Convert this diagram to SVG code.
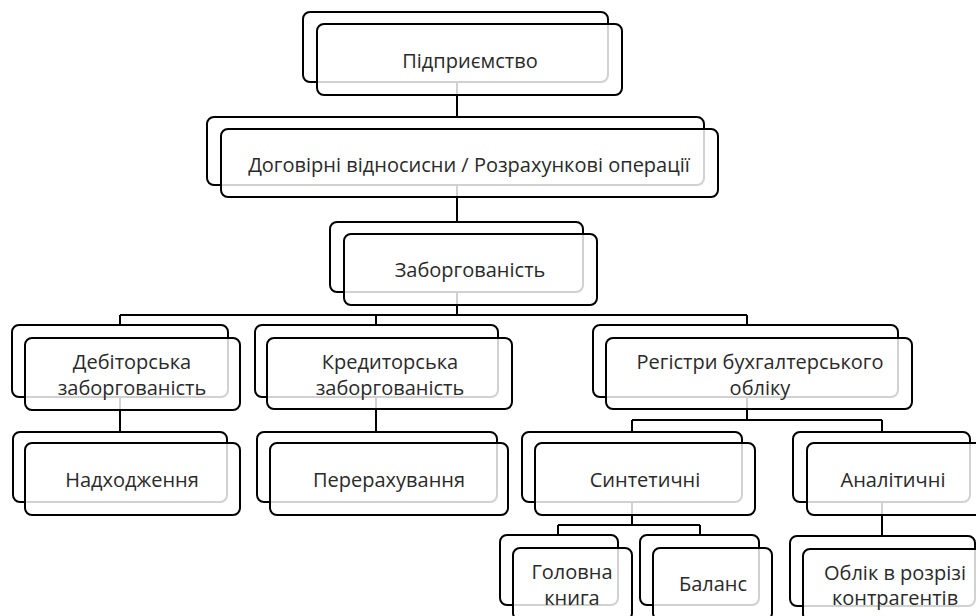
<svg xmlns="http://www.w3.org/2000/svg" width="976" height="616" viewBox="0 0 976 616">
<style>
.bk{fill:#fff;stroke:#000;stroke-width:2}
.fr{fill:#fff;fill-opacity:0.82;stroke:#000;stroke-width:2}
.ln{fill:none;stroke:#000;stroke-width:2}
text{font-family:"Open Sans","Noto Sans","DejaVu Sans",sans-serif;font-size:20px;fill:#2a2a2a;text-anchor:middle;dominant-baseline:central}
</style>
<rect width="976" height="616" fill="#fff"/>
<g id="connectors">
<path class="ln" d="M457,82V117 M457,185V222 M457,292V315 M120,315H747 M120,315V325 M376,315V325 M747,315V325 M120,397V432 M376,397V432 M747,397V420 M632,420H882 M632,420V432 M882,420V432 M632,502V525 M558,525H700 M558,525V535 M700,525V535 M882,502V536"/>
</g>
<g id="n1"><rect class="bk" x="303" y="12" width="305" height="70" rx="7"/><rect class="fr" x="317" y="24" width="305" height="71" rx="7"/><text x="470" y="60">Підприємство</text></g>
<g id="n2"><rect class="bk" x="207" y="117" width="497" height="68" rx="7"/><rect class="fr" x="221" y="129" width="497" height="68" rx="7"/><text x="469" y="164">Договірні відносисни / Розрахункові операції</text></g>
<g id="n3"><rect class="bk" x="330" y="222" width="253" height="70" rx="7"/><rect class="fr" x="344" y="234" width="253" height="71" rx="7"/><text x="470" y="269">Заборгованість</text></g>
<g id="n4"><rect class="bk" x="12" y="325" width="216" height="72" rx="7"/><rect class="fr" x="25" y="338" width="215" height="72" rx="7"/><text x="132" y="361">Дебіторська</text><text x="132" y="387">заборгованість</text></g>
<g id="n5"><rect class="bk" x="255" y="325" width="243" height="72" rx="7"/><rect class="fr" x="267" y="338" width="245" height="71" rx="7"/><text x="390" y="361">Кредиторська</text><text x="390" y="387">заборгованість</text></g>
<g id="n6"><rect class="bk" x="593" y="325" width="305" height="72" rx="7"/><rect class="fr" x="606" y="338" width="306" height="71" rx="7"/><text x="760" y="361">Регістри бухгалтерського</text><text x="760" y="387">обліку</text></g>
<g id="n7"><rect class="bk" x="13" y="432" width="214" height="70" rx="7"/><rect class="fr" x="25" y="443" width="215" height="72" rx="7"/><text x="132" y="479">Надходження</text></g>
<g id="n8"><rect class="bk" x="257" y="432" width="240" height="70" rx="7"/><rect class="fr" x="270" y="443" width="238" height="72" rx="7"/><text x="389" y="479">Перерахування</text></g>
<g id="n9"><rect class="bk" x="522" y="432" width="220" height="70" rx="7"/><rect class="fr" x="535" y="443" width="220" height="72" rx="7"/><text x="645" y="479">Синтетичні</text></g>
<g id="n10"><rect class="bk" x="793" y="432" width="177" height="70" rx="7"/><rect class="fr" x="807" y="443" width="177" height="72" rx="7"/><text x="893" y="479">Аналітичні</text></g>
<g id="n11"><rect class="bk" x="500" y="535" width="118" height="70" rx="7"/><rect class="fr" x="513" y="548" width="119" height="72" rx="7"/><text x="572" y="571">Головна</text><text x="572" y="597">книга</text></g>
<g id="n12"><rect class="bk" x="640" y="535" width="119" height="70" rx="7"/><rect class="fr" x="653" y="548" width="119" height="72" rx="7"/><text x="713" y="583">Баланс</text></g>
<g id="n13"><rect class="bk" x="790" y="536" width="185" height="70" rx="7"/><rect class="fr" x="803" y="549" width="185" height="72" rx="7"/><text x="895" y="572">Облік в розрізі</text><text x="895" y="597">контрагентів</text></g>
</svg>
